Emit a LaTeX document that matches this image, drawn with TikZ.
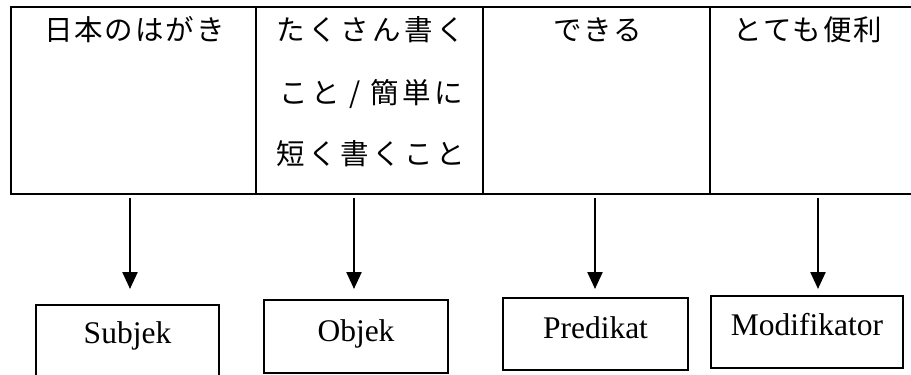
\documentclass[tikz,border=0pt]{standalone}
\usepackage{fontspec}
\setmainfont{Liberation Serif}
\newfontfamily\cjk{Noto Sans CJK JP}[LetterSpace=7]
\newfontfamily\cjkwide{Noto Sans CJK JP}[LetterSpace=12]
\usetikzlibrary{arrows.meta}
\begin{document}
\begin{tikzpicture}[x=1pt,y=-1pt,
  cell/.style={draw,line width=2pt,rectangle,inner sep=0pt},
  jp/.style={anchor=base,inner sep=0pt,font=\cjk\fontsize{28.5}{32}\selectfont},
  jpw/.style={anchor=base,inner sep=0pt,font=\cjkwide\fontsize{28.5}{32}\selectfont},
  lab/.style={draw,line width=1.2pt,rectangle,inner sep=0pt,
    font=\fontsize{31.5}{36}\selectfont,text height=24pt,text depth=16pt},
  arr/.style={line width=2.4pt,-{Triangle[width=15pt,length=17pt]}}]
\useasboundingbox (0,0) rectangle (911,375);
\clip (0,0) rectangle (911,375);
% table cells
\node[cell,minimum width=245pt,minimum height=187pt] (cell1) at (133.5,100.5) {};
\node[cell,minimum width=227pt,minimum height=187pt] (cell2) at (369.5,100.5) {};
\node[cell,minimum width=227pt,minimum height=187pt] (cell3) at (596.5,100.5) {};
\node[cell,minimum width=212pt,minimum height=187pt] (cell4) at (816,100.5) {};
% cell texts
\node[jp] (t1) at (134.5,40) {日本のはがき};
\node[jpw] (t2a) at (371,40) {たくさん書く};
\node[jpw] (t2b) at (371,103) {こと / 簡単に};
\node[jpw] (t2c) at (371,164) {短く書くこと};
\node[jp] (t3) at (597.5,40) {できる};
\node[jp] (t4) at (808,40) {とても便利};
% arrows
\coordinate (s1) at (130,198); \coordinate (e1) at (130,289);
\coordinate (s2) at (354,198); \coordinate (e2) at (354,289);
\coordinate (s3) at (595,198); \coordinate (e3) at (595,289);
\coordinate (s4) at (818,198); \coordinate (e4) at (818,289);
\draw[arr] (s1) -- (e1);
\draw[arr] (s2) -- (e2);
\draw[arr] (s3) -- (e3);
\draw[arr] (s4) -- (e4);
% label boxes
\node[lab,minimum width=183pt,minimum height=73pt,text depth=21pt] (subj) at (127.5,341.5) {Subjek};
\node[lab,minimum width=184pt,minimum height=73pt,text depth=15pt] (obj) at (356,336.5) {Objek};
\node[lab,minimum width=185pt,minimum height=72pt,text depth=16pt] (pred) at (595.5,334) {Predikat};
\node[lab,minimum width=192pt,minimum height=72pt,text depth=18pt] (mod) at (807,332) {Modifikator};
\end{tikzpicture}
\end{document}
